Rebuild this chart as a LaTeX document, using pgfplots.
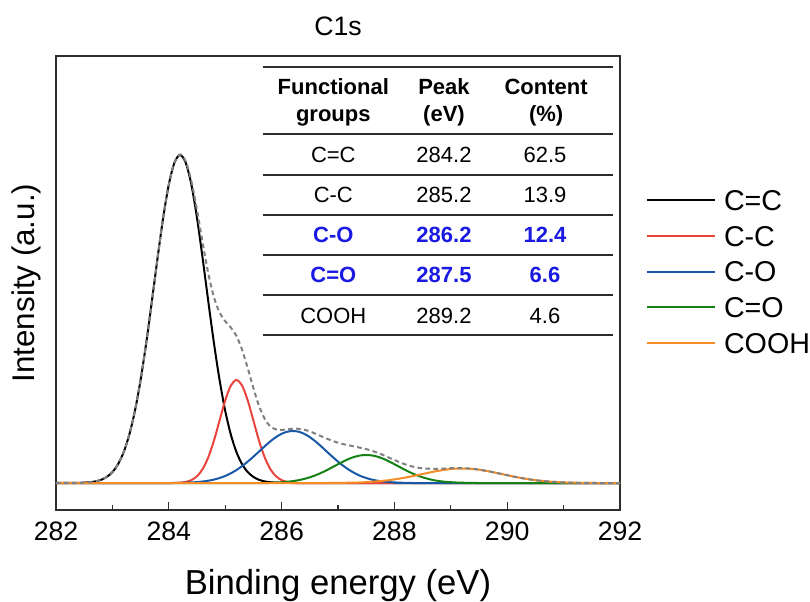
\documentclass[border=0pt]{standalone}
\usepackage{fontspec}
\setmainfont{Liberation Sans}
\usepackage{pgfplots}
\pgfplotsset{compat=1.18}
\definecolor{cblack}{RGB}{0,0,0}
\definecolor{cred}{RGB}{232,68,60}
\definecolor{cblue}{RGB}{25,88,165}
\definecolor{cgreen}{RGB}{22,130,22}
\definecolor{corange}{RGB}{245,140,40}
\definecolor{cgray}{RGB}{128,128,128}
\definecolor{tblue}{RGB}{25,25,225}
\definecolor{axcol}{RGB}{45,45,45}
\newcommand{\tf}{\fontsize{16.5}{19}\selectfont}
\begin{document}
\begin{tikzpicture}
\path[use as bounding box] (-42pt,-68.25pt) rectangle (565.5pt,382.5pt);
\begin{axis}[
  at={(0,0)}, anchor=south west,
  scale only axis, width=423pt, height=340.5pt,
  xmin=282, xmax=292, ymin=-27, ymax=427,
  xtick={282,284,...,292}, minor xtick={283,285,...,291},
  ytick=\empty,
  xtick pos=left, tick align=inside,
  major tick length=6pt, minor tick length=3.75pt,
  every tick/.style={axcol, line width=1pt},
  axis line style={axcol, line width=1.3pt},
  /pgf/number format/assume math mode=true,
  /pgf/number format/1000 sep={},
  xticklabel style={font=\fontsize{20}{24}\selectfont, inner sep=0pt, anchor=north, yshift=-9pt},
  xlabel={Binding energy (eV)},
  xlabel style={at={(axis description cs:0.5,-0.13)}, anchor=north, inner sep=0pt, font=\fontsize{26}{30}\selectfont},
  ylabel={Intensity (a.u.)},
  ylabel style={at={(axis description cs:-0.0254,0.5)}, anchor=south, inner sep=0pt, font=\fontsize{23.5}{28}\selectfont},
  title={C1s},
  every axis title shift=0pt,
  title style={at={(axis description cs:0.5,1.046)}, anchor=base, inner sep=0pt, font=\fontsize{20}{24}\selectfont},
  legend image code/.code={\draw[#1] (0pt,0pt) -- (51pt,0pt);},
  legend cell align=left,
  legend style={draw=none, fill=none, at={(1.0461,0.7055)}, anchor=north west,
    inner sep=0pt, outer sep=0pt, column sep=6pt, row sep=11.3pt,
    nodes={inner sep=0pt, text height=15.5pt, text depth=0pt},
    font=\fontsize{21.5}{24}\selectfont},
  every axis plot/.append style={line width=1.5pt},
]
\addplot[cblack, smooth] coordinates {(282.0,0) (282.4,0.2) (282.5,0.4) (282.6,0.8) (282.7,1.6) (282.8,3.2) (282.9,6.1) (283.0,10.9) (283.1,18.8) (283.2,30.9) (283.3,48.4) (283.4,72.3) (283.5,103.1) (283.6,140.1) (283.7,181.7) (283.8,224.7) (283.9,265.2) (284.0,298.4) (284.1,320.3) (284.2,328) (284.3,320.3) (284.4,298.4) (284.5,265.2) (284.6,224.7) (284.7,181.7) (284.8,140.1) (284.9,103.1) (285.0,72.3) (285.1,48.4) (285.2,30.9) (285.3,18.8) (285.4,10.9) (285.5,6.1) (285.6,3.2) (285.7,1.6) (285.8,0.8) (285.9,0.4) (286.0,0.2) (286.4,0) (292,0)};
\addlegendentry{C=C}
\addplot[cred, smooth] coordinates {(282,0) (284.0,0) (284.1,0.1) (284.2,0.4) (284.3,1.1) (284.4,2.9) (284.5,6.8) (284.6,13.9) (284.7,25.7) (284.8,42.3) (284.9,62.5) (285.0,82.5) (285.1,97.4) (285.2,103) (285.3,97.4) (285.4,82.5) (285.5,62.5) (285.6,42.3) (285.7,25.7) (285.8,13.9) (285.9,6.8) (286.0,2.9) (286.1,1.1) (286.2,0.4) (286.3,0.1) (286.4,0) (292,0)};
\addlegendentry{C-C}
\addplot[cblue, smooth] coordinates {(282,0) (284.0,0) (284.2,0.2) (284.3,0.3) (284.4,0.6) (284.5,0.9) (284.6,1.5) (284.7,2.3) (284.8,3.4) (284.9,5.0) (285.0,7.0) (285.1,9.7) (285.2,13.0) (285.3,16.9) (285.4,21.4) (285.5,26.3) (285.6,31.5) (285.7,36.7) (285.8,41.6) (285.9,45.9) (286.0,49.2) (286.1,51.3) (286.2,52) (286.3,51.3) (286.4,49.2) (286.5,45.9) (286.6,41.6) (286.7,36.7) (286.8,31.5) (286.9,26.3) (287.0,21.4) (287.1,16.9) (287.2,13.0) (287.3,9.7) (287.4,7.0) (287.5,5.0) (287.6,3.4) (287.7,2.3) (287.8,1.5) (287.9,0.9) (288.0,0.6) (288.1,0.3) (288.2,0.2) (288.4,0) (292,0)};
\addlegendentry{C-O}
\addplot[cgreen, smooth] coordinates {(282,0) (285.7,0) (285.8,0.3) (285.9,0.5) (286.0,0.8) (286.1,1.2) (286.2,1.9) (286.3,2.8) (286.4,4.1) (286.5,5.7) (286.6,7.7) (286.7,10.1) (286.8,12.8) (286.9,15.8) (287.0,18.8) (287.1,21.7) (287.2,24.3) (287.3,26.3) (287.4,27.6) (287.5,28) (287.6,27.6) (287.7,26.3) (287.8,24.3) (287.9,21.7) (288.0,18.8) (288.1,15.8) (288.2,12.8) (288.3,10.1) (288.4,7.7) (288.5,5.7) (288.6,4.1) (288.7,2.8) (288.8,1.9) (288.9,1.2) (289.0,0.8) (289.1,0.5) (289.2,0.3) (289.3,0.2) (289.5,0) (292,0)};
\addlegendentry{C=O}
\addplot[corange, smooth] coordinates {(282,0) (286.6,0) (286.8,0.06) (287.0,0.14) (287.2,0.3) (287.3,0.4) (287.4,0.6) (287.5,0.9) (287.6,1.2) (287.7,1.7) (287.8,2.2) (287.9,2.8) (288.0,3.6) (288.1,4.5) (288.2,5.5) (288.3,6.6) (288.4,7.8) (288.5,9.0) (288.6,10.2) (288.7,11.4) (288.8,12.4) (288.9,13.3) (289.0,14.0) (289.1,14.4) (289.2,14.5) (289.3,14.4) (289.4,14.0) (289.5,13.3) (289.6,12.4) (289.7,11.4) (289.8,10.2) (289.9,9.0) (290.0,7.8) (290.1,6.6) (290.2,5.5) (290.3,4.5) (290.4,3.6) (290.5,2.8) (290.6,2.2) (290.7,1.7) (290.8,1.2) (290.9,0.9) (291.0,0.6) (291.1,0.4) (291.2,0.3) (291.4,0.1) (291.6,0) (292,0)};
\addlegendentry{COOH}
\addplot[cgray, smooth, dash pattern=on 3.5pt off 2.5pt, forget plot] coordinates {(282.0,0) (282.4,0.2) (282.5,0.4) (282.6,0.8) (282.7,1.6) (282.8,3.2) (282.9,6.1) (283.0,10.9) (283.1,18.8) (283.2,30.9) (283.3,48.4) (283.4,72.3) (283.5,103.1) (283.6,140.1) (283.7,181.7) (283.8,224.7) (283.9,265.2) (284.0,298.5) (284.1,320.5) (284.2,328.6) (284.3,321.7) (284.4,301.9) (284.5,272.9) (284.6,240.1) (284.7,209.7) (284.8,185.8) (284.9,170.6) (285.0,161.8) (285.1,155.5) (285.2,146.9) (285.3,133.1) (285.4,114.8) (285.5,94.9) (285.6,77.1) (285.7,64.2) (285.8,56.6) (285.9,53.6) (286.0,53.1) (286.1,53.7) (286.2,54.3) (286.3,54.2) (286.4,53.3) (286.5,51.6) (286.6,49.3) (286.7,46.8) (286.8,44.4) (286.9,42.2) (287.0,40.3) (287.1,38.8) (287.2,37.6) (287.3,36.4) (287.4,35.2) (287.5,33.9) (287.6,32.2) (287.7,30.3) (287.8,28.0) (287.9,25.4) (288.0,23.0) (288.1,20.6) (288.2,18.5) (288.3,16.8) (288.4,15.5) (288.5,14.7) (288.6,14.3) (288.7,14.2) (288.8,14.3) (288.9,14.5) (289.0,14.8) (289.1,14.9) (289.2,14.8) (289.3,14.6) (289.4,14.1) (289.5,13.4) (289.6,12.4) (289.7,11.4) (289.8,10.2) (289.9,9.0) (290.0,7.8) (290.1,6.6) (290.2,5.5) (290.3,4.5) (290.4,3.6) (290.5,2.8) (290.6,2.2) (290.7,1.7) (290.8,1.2) (290.9,0.9) (291.0,0.6) (291.1,0.4) (291.2,0.3) (291.4,0.1) (291.6,0) (292,0)};
% table
\draw[axcol, line width=1.5pt] (axis cs:285.670,416.3) -- (axis cs:291.876,416.3);
\draw[axcol, line width=1.5pt] (axis cs:285.670,349) -- (axis cs:291.876,349);
\draw[axcol, line width=1.5pt] (axis cs:285.670,308.3) -- (axis cs:291.876,308.3);
\draw[axcol, line width=1.5pt] (axis cs:285.670,268.3) -- (axis cs:291.876,268.3);
\draw[axcol, line width=1.5pt] (axis cs:285.670,228) -- (axis cs:291.876,228);
\draw[axcol, line width=1.5pt] (axis cs:285.670,188) -- (axis cs:291.876,188);
\draw[axcol, line width=1.5pt] (axis cs:285.670,148) -- (axis cs:291.876,148);
\node[anchor=base, font=\tf\bfseries] at (axis cs:286.917,388.7) {Functional};
\node[anchor=base, font=\tf\bfseries] at (axis cs:286.917,361.3) {groups};
\node[anchor=base, font=\tf\bfseries] at (axis cs:288.879,388.7) {Peak};
\node[anchor=base, font=\tf\bfseries] at (axis cs:288.879,361.3) {(eV)};
\node[anchor=base, font=\tf\bfseries] at (axis cs:290.69,388.7) {Content};
\node[anchor=base, font=\tf\bfseries] at (axis cs:290.69,361.3) {(\%)};
\node[anchor=base, font=\tf] at (axis cs:286.917,320.3) {C=C};
\node[anchor=base, font=\tf] at (axis cs:288.879,320.3) {284.2};
\node[anchor=base, font=\tf] at (axis cs:290.67,320.3) {62.5};
\node[anchor=base, font=\tf] at (axis cs:286.917,280.3) {C-C};
\node[anchor=base, font=\tf] at (axis cs:288.879,280.3) {285.2};
\node[anchor=base, font=\tf] at (axis cs:290.67,280.3) {13.9};
\node[anchor=base, font=\tf\bfseries, text=tblue] at (axis cs:286.917,240.3) {C-O};
\node[anchor=base, font=\tf\bfseries, text=tblue] at (axis cs:288.879,240.3) {286.2};
\node[anchor=base, font=\tf\bfseries, text=tblue] at (axis cs:290.67,240.3) {12.4};
\node[anchor=base, font=\tf\bfseries, text=tblue] at (axis cs:286.917,200.3) {C=O};
\node[anchor=base, font=\tf\bfseries, text=tblue] at (axis cs:288.879,200.3) {287.5};
\node[anchor=base, font=\tf\bfseries, text=tblue] at (axis cs:290.67,200.3) {6.6};
\node[anchor=base, font=\tf] at (axis cs:286.917,159.7) {COOH};
\node[anchor=base, font=\tf] at (axis cs:288.879,159.7) {289.2};
\node[anchor=base, font=\tf] at (axis cs:290.67,159.7) {4.6};
\end{axis}
\end{tikzpicture}
\end{document}
